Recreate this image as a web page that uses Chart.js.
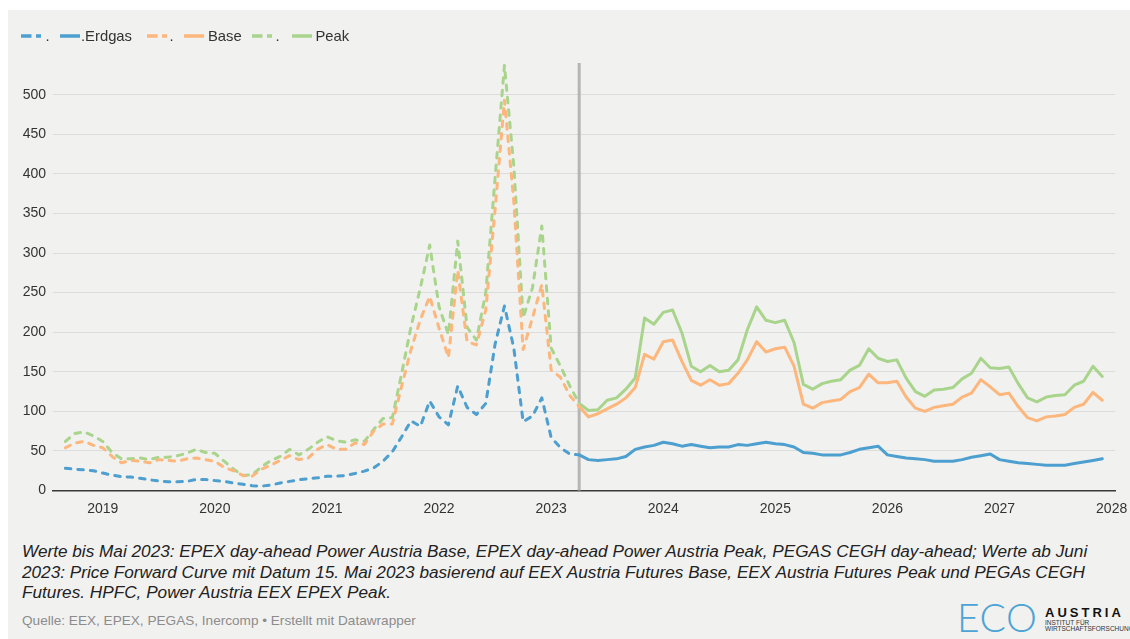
<!DOCTYPE html>
<html lang="de">
<head>
<meta charset="utf-8">
<title>Strom- und Gaspreise Österreich</title>
<script src="https://cdn.jsdelivr.net/npm/chart.js@4.4.1/dist/chart.umd.min.js"></script>
<style>
  html, body { margin: 0; padding: 0; background: #ffffff; }
  body { width: 1130px; height: 639px; position: relative; overflow: hidden;
         font-family: "Liberation Sans", Arial, Helvetica, sans-serif; }
  #panel { position: absolute; left: 8px; top: 10px; right: 0; bottom: 0; background: #f1f1f0; }
  #chart { position: absolute; left: 0; top: 0; }
  .lg { position: absolute; font-size: 14.8px; line-height: 14px; color: #333333; white-space: nowrap; }
  .mk { position: absolute; width: 20px; height: 6px; }
  #notes { position: absolute; left: 22px; top: 541px; width: 1100px; font-size: 17.2px; line-height: 20.5px;
           font-style: italic; color: #222222; white-space: nowrap; }
  #source { position: absolute; left: 22px; top: 614px; font-size: 13.6px; line-height: 13px; color: #8c8c8c; white-space: nowrap; }
  .logo { position: absolute; white-space: nowrap; }
</style>
</head>
<body>
<div id="panel"></div>
<canvas id="chart" width="1130" height="530"></canvas>
<div id="legend"></div>
<div id="notes">Werte bis Mai 2023: EPEX day-ahead Power Austria Base, EPEX day-ahead Power Austria Peak, PEGAS CEGH day-ahead; Werte ab Juni<br>2023: Price Forward Curve mit Datum 15. Mai 2023 basierend auf EEX Austria Futures Base, EEX Austria Futures Peak und PEGAs CEGH<br>Futures. HPFC, Power Austria EEX EPEX Peak.</div>
<div id="source">Quelle: EEX, EPEX, PEGAS, Inercomp • Erstellt mit Datawrapper</div>
<div class="logo" style="left:957px;top:598px;font-family:Lato,'Open Sans',sans-serif;font-weight:300;font-size:39px;line-height:39px;color:#4ba3d6;letter-spacing:0.5px;">ECO</div>
<div class="logo" style="left:1045px;top:606px;font-weight:bold;font-size:13px;line-height:13px;color:#111;letter-spacing:3px;">AUSTRIA</div>
<div class="logo" style="left:1045px;top:620px;font-size:6.5px;line-height:6.5px;color:#333;">INSTITUT FÜR</div>
<div class="logo" style="left:1045px;top:625.5px;font-size:6.5px;line-height:6.5px;color:#333;">WIRTSCHAFTSFORSCHUNG</div>

<script>
// Monthly values, €/MWh. Historic: Sep 2018 – Apr 2023, forward curve: Apr 2023 – Dec 2027.
const histStart = [2018, 9];
const fwdStart = [2023, 4];

const erdgasHist = [
  28, 27, 26, 25,
  22, 19.5, 17.5, 17, 15.5, 13.5, 12, 11, 11, 11.5, 14, 14,
  12.5, 11.5, 9.5, 8, 6, 5.5, 7, 9.5, 11.5, 13.5, 15, 16,
  18, 18, 19, 21.5, 24.5, 28.5, 37, 49, 68, 88, 81, 113,
  93, 83, 132, 105, 96, 110, 185, 233, 180, 87, 94, 117,
  67, 54, 46, 45
];
const baseHist = [
  54, 60, 62, 57,
  54, 43, 35, 38, 37, 35, 39, 38, 37, 40, 41, 39,
  37, 29, 25, 19, 18, 27, 32, 38, 44, 39, 41, 52,
  58, 52, 52, 60, 58, 75, 84, 84, 132, 178, 216, 245,
  205, 168, 278, 188, 184, 228, 355, 493, 365, 178, 218, 260,
  152, 143, 120, 106
];
const peakHist = [
  62, 72, 74, 69,
  62, 48, 40, 40, 41, 39, 42, 42, 44, 47, 52, 48,
  47, 37, 27, 19, 20, 30, 38, 43, 52, 45, 52, 61,
  68, 63, 61, 64, 62, 77, 91, 92, 148, 207, 256, 310,
  232, 197, 315, 206, 190, 250, 395, 537, 410, 218, 256, 334,
  180, 157, 132, 110
];

const erdgasFwd = [
  45, 39, 38, 39, 40, 43, 52, 55, 57,
  61, 59, 56, 58, 56, 54, 55, 55, 58, 57, 59, 61,
  59, 58, 55, 48, 47, 45, 45, 45, 48, 52, 54, 56,
  45, 43, 41, 40, 39, 37, 37, 37, 39, 42, 44, 46,
  39, 37, 35, 34, 33, 32, 32, 32, 34, 36, 38, 40
];
const baseFwd = [
  106, 93, 97, 103, 109, 117, 130, 172, 166,
  188, 190, 163, 139, 133, 140, 133, 135, 148, 165, 188, 175,
  179, 181, 157, 109, 104, 111, 113, 115, 125, 130, 147, 136,
  136, 138, 118, 104, 100, 105, 107, 109, 118, 123, 140, 131,
  121, 123, 106, 92, 88, 93, 94, 96, 105, 109, 124, 114
];
const peakFwd = [
  110, 101, 102, 114, 117, 128, 142, 218, 210,
  225, 228, 199, 157, 150, 158, 150, 152, 165, 203, 232, 215,
  212, 215, 187, 134, 128, 135, 138, 140, 152, 158, 179, 167,
  163, 165, 142, 125, 119, 127, 128, 130, 141, 148, 167, 155,
  154, 156, 135, 117, 112, 118, 120, 121, 133, 138, 157, 144
];

const yearTicks = [2019, 2020, 2021, 2022, 2023, 2024, 2025, 2026, 2027, 2028];
const yTicks = [0, 50, 100, 150, 200, 250, 300, 350, 400, 450, 500];
const forecastFrom = 2023 + 3 / 12;   // marker: start of the forward curve

// legend entries (dashed = historic, solid = forward curve)
const legendLabels = ['.', '.Erdgas', '.', 'Base', '.', 'Peak'];

const BLUE = '#4c9fcf', ORANGE = '#fdb67b', GREEN = '#a9d48b';

function monthSeries(start, values) {
  return values.map((v, i) => {
    const m = start[1] - 1 + i;
    return { x: start[0] + m / 12, y: v };
  });
}

// HTML legend
(function buildLegend() {
  const colours = [BLUE, BLUE, ORANGE, ORANGE, GREEN, GREEN];
  const markerX = [21, 59.5, 146.5, 184, 252, 291.5];
  const textX = [45.5, 81, 169.5, 208, 275.5, 315.5];
  const host = document.getElementById('legend');
  legendLabels.forEach((lab, i) => {
    const dashed = i % 2 === 0;
    const svg = document.createElementNS('http://www.w3.org/2000/svg', 'svg');
    svg.setAttribute('class', 'mk');
    svg.setAttribute('width', '20'); svg.setAttribute('height', '6');
    svg.style.left = markerX[i] + 'px'; svg.style.top = '32.7px';
    const ln = document.createElementNS('http://www.w3.org/2000/svg', 'line');
    ln.setAttribute('x1', '0'); ln.setAttribute('x2', '20');
    ln.setAttribute('y1', '3'); ln.setAttribute('y2', '3');
    ln.setAttribute('stroke', colours[i]); ln.setAttribute('stroke-width', '3.5');
    if (dashed) ln.setAttribute('stroke-dasharray', '10.5 4.5');
    svg.appendChild(ln);
    host.appendChild(svg);
    const t = document.createElement('div');
    t.className = 'lg'; t.textContent = lab;
    t.style.left = textX[i] + 'px'; t.style.top = '29px';
    host.appendChild(t);
  });
})();

const forecastLine = {
  id: 'forecastLine',
  beforeDatasetsDraw(chart) {
    const { ctx, chartArea, scales } = chart;
    const x = scales.x.getPixelForValue(forecastFrom);
    ctx.save();
    ctx.strokeStyle = '#b5b5b5';
    ctx.lineWidth = 3;
    ctx.beginPath();
    ctx.moveTo(x, chartArea.top);
    ctx.lineTo(x, chartArea.bottom);
    ctx.stroke();
    ctx.restore();
  }
};

const dashed = { borderDash: [5.5, 7], borderCapStyle: 'round', borderJoinStyle: 'round' };
const solid = { borderCapStyle: 'round', borderJoinStyle: 'round' };

const datasets = [
  { label: legendLabels[0], data: monthSeries(histStart, erdgasHist), borderColor: BLUE, ...dashed },
  { label: legendLabels[1], data: monthSeries(fwdStart, erdgasFwd), borderColor: BLUE, ...solid },
  { label: legendLabels[2], data: monthSeries(histStart, baseHist), borderColor: ORANGE, ...dashed },
  { label: legendLabels[3], data: monthSeries(fwdStart, baseFwd), borderColor: ORANGE, ...solid },
  { label: legendLabels[4], data: monthSeries(histStart, peakHist), borderColor: GREEN, ...dashed },
  { label: legendLabels[5], data: monthSeries(fwdStart, peakFwd), borderColor: GREEN, ...solid }
].map(d => Object.assign({ borderWidth: 3, pointRadius: 0, pointHoverRadius: 0, tension: 0, fill: false }, d));

const font = { family: '"Liberation Sans", Arial, Helvetica, sans-serif', size: 14 };

new Chart(document.getElementById('chart'), {
  type: 'line',
  data: { datasets },
  plugins: [forecastLine],
  options: {
    responsive: false,
    animation: false,
    devicePixelRatio: 1,
    layout: { padding: { left: 0, right: 15, top: 63, bottom: 5.5 } },
    plugins: { legend: { display: false }, tooltip: { enabled: false } },
    scales: {
      x: {
        type: 'linear',
        min: 2018.556,
        max: 2028.03,
        afterBuildTicks(scale) { scale.ticks = yearTicks.map(v => ({ value: v })); },
        afterFit(scale) { scale.height = 34; scale.paddingLeft = 0; scale.paddingRight = 0; },
        grid: { display: false },
        border: { display: true, color: '#3a3a3a', width: 1.6 },
        ticks: { color: '#333333', font, padding: 2, maxRotation: 0, autoSkip: false,
                 callback: v => String(v) }
      },
      y: {
        min: 0,
        max: 540,
        afterBuildTicks(scale) { scale.ticks = yTicks.map(v => ({ value: v })); },
        afterFit(scale) { scale.width = 53; scale.paddingTop = 0; scale.paddingBottom = 0; },
        grid: { color: '#dcdcdc', lineWidth: 1, drawTicks: false },
        border: { display: false },
        ticks: { color: '#333333', font, padding: 7, callback: v => String(v) }
      }
    }
  }
});
</script>
</body>
</html>
